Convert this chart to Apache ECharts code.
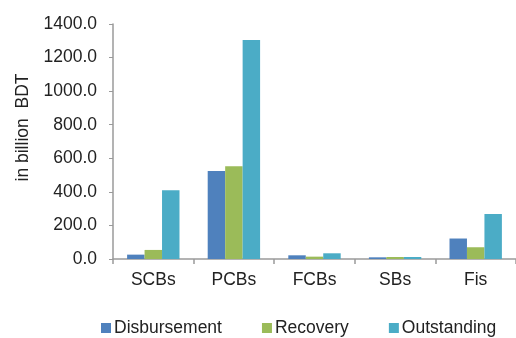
<!DOCTYPE html>
<html>
<head>
<meta charset="utf-8">
<script src="https://cdn.jsdelivr.net/npm/echarts@6/dist/echarts.min.js"></script>
<style>
  html, body { margin: 0; padding: 0; background: #ffffff; }
  #chart { width: 516px; height: 338px; }
</style>
</head>
<body>
<div id="chart"></div>
<script>
// Bank groups and loan figures (billion BDT)
const categories = ['SCBs', 'PCBs', 'FCBs', 'SBs', 'Fis'];
const disbursement = [26, 525, 22, 10, 122];
const recovery = [54, 553, 14, 12, 70];
const outstanding = [410, 1305, 34, 12, 268];
const seriesNames = ['Disbursement', 'Recovery', 'Outstanding'];
const yTicks = { min: 0, max: 1400, step: 200 };

const colors = ['#4F81BD', '#9BBB59', '#4BACC6'];
const font = 'Liberation Sans, Arial, sans-serif';
const fs = 17.5;

const chart = echarts.init(document.getElementById('chart'), null, { renderer: 'canvas' });

function barSeries(name, data, i) {
  return {
    name: name,
    type: 'bar',
    data: data,
    barGap: '0%',
    barCategoryGap: '35%',
    itemStyle: { color: colors[i] }
  };
}

// legend entries; the middle one gets extra room on its right
const legendData = seriesNames.map((n, i) => ({
  name: n,
  textStyle: { padding: i === 1 ? [0, 8, 0, -2] : [0, 0, 0, -2] }
}));

chart.setOption({
  animation: false,
  color: colors,
  textStyle: { fontFamily: font },
  grid: { left: 113, right: -9, top: 24, bottom: 79 },
  legend: {
    data: legendData,
    left: 96,
    top: 314,
    itemWidth: 10,
    itemHeight: 10,
    itemGap: 40,
    icon: 'rect',
    textStyle: { fontFamily: font, fontSize: fs, color: '#222' }
  },
  xAxis: {
    type: 'category',
    data: categories,
    axisLine: { lineStyle: { color: '#9a9a9a', width: 1.5 } },
    axisTick: { show: true, alignWithLabel: false, length: 5, lineStyle: { color: '#9a9a9a', width: 1.5 } },
    axisLabel: { fontFamily: font, fontSize: fs, color: '#222', margin: 12 }
  },
  yAxis: {
    type: 'value',
    min: yTicks.min,
    max: yTicks.max,
    interval: yTicks.step,
    name: 'in billion  BDT',
    nameLocation: 'middle',
    nameRotate: 90,
    nameGap: 80,
    nameTextStyle: { fontFamily: font, fontSize: fs, color: '#222', padding: [0, 0, 0, 28] },
    axisLine: { show: true, lineStyle: { color: '#9a9a9a', width: 1.5 } },
    axisTick: { show: true, length: 4, lineStyle: { color: '#9a9a9a', width: 1 } },
    splitLine: { show: false },
    axisLabel: {
      fontFamily: font, fontSize: fs, color: '#222', margin: 16,
      formatter: v => v.toFixed(1)
    }
  },
  series: [
    barSeries(seriesNames[0], disbursement, 0),
    barSeries(seriesNames[1], recovery, 1),
    barSeries(seriesNames[2], outstanding, 2)
  ]
});
</script>
</body>
</html>
